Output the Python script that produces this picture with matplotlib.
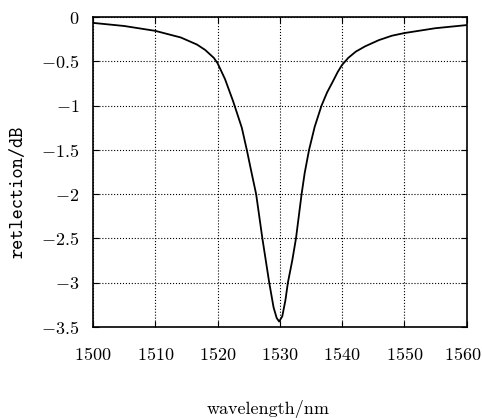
import matplotlib
matplotlib.use('Agg')
import matplotlib.pyplot as plt
import matplotlib.transforms as mtransforms

# reflection spectrum
wavelength = [1500, 1505, 1510, 1514.1, 1516.7, 1518, 1519.4, 1520, 1521.2, 1522.5,
              1523.9, 1524.7, 1525.5, 1526.2, 1527.2, 1528.3, 1529.0, 1529.5,
              1529.9, 1530.4, 1530.9, 1531.3, 1532.0, 1532.6, 1533.5, 1534.0,
              1534.7, 1535.6, 1536.7, 1537.6, 1538.5, 1539.3, 1540, 1541, 1542.2,
              1543.7, 1545.9, 1548, 1550, 1555, 1560]
reflection = [-0.065, -0.10, -0.155, -0.23, -0.31, -0.37, -0.46, -0.52, -0.70, -0.95,
              -1.25, -1.5, -1.77, -2.0, -2.5, -3.0, -3.28, -3.40,
              -3.44, -3.38, -3.2, -3.0, -2.75, -2.5, -2.0, -1.76,
              -1.5, -1.24, -1.0, -0.85, -0.73, -0.62, -0.54, -0.46, -0.39,
              -0.33, -0.26, -0.21, -0.18, -0.125, -0.09]

xticks = [1500, 1510, 1520, 1530, 1540, 1550, 1560]
yticks = [0, -0.5, -1, -1.5, -2, -2.5, -3, -3.5]
ytick_labels = ['$0$', '$-0.5$', '$-1$', '$-1.5$', '$-2$', '$-2.5$', '$-3$', '$-3.5$']
xtick_labels = ['$%d$' % t for t in xticks]

plt.rcParams['font.family'] = ['cmr10', 'DejaVu Serif']
plt.rcParams['mathtext.fontset'] = 'cm'

fig = plt.figure(figsize=(4.82, 4.18), dpi=100)
ax = fig.add_axes([0.193, 0.218, 0.775, 0.741])

ax.plot(wavelength, reflection, color='black', lw=1.3)

ax.set_xlim(1500, 1560)
ax.set_ylim(-3.5, 0)
ax.set_xticks(xticks)
ax.set_xticklabels(xtick_labels)
ax.set_yticks(yticks)
ax.set_yticklabels(ytick_labels)
ax.tick_params(direction='in', top=True, right=True, labelsize=13, length=4)
ax.tick_params(axis='x', pad=14)
ax.tick_params(axis='y', pad=10)
ax.grid(True, linestyle=':', color='black', lw=0.8)
for s in ax.spines.values():
    s.set_linewidth(1.2)

# last x label sits a bit left so it stays inside the picture
last = ax.get_xticklabels()[-1]
last.set_transform(last.get_transform() +
                   mtransforms.ScaledTranslation(-0.04, 0, fig.dpi_scale_trans))

ax.set_xlabel('wavelength/nm', fontsize=13)
ax.xaxis.set_label_coords(0.47, -0.235)
ax.set_ylabel('retlection/dB', fontsize=14, family='cmtt10')
ax.yaxis.set_label_coords(-0.176, 0.437)

fig.savefig('out.png', dpi=100)
